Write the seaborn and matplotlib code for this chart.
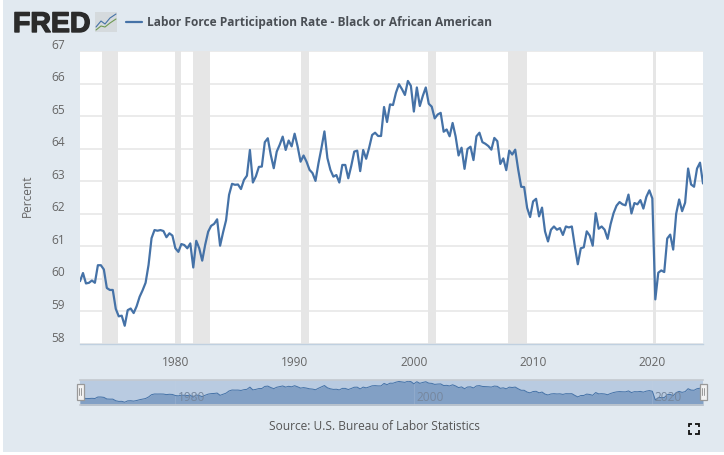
import numpy as np
import pandas as pd
import matplotlib
matplotlib.use("Agg")
import matplotlib.pyplot as plt
import matplotlib.patheffects as pe
from matplotlib.lines import Line2D
from matplotlib.patches import Rectangle
from matplotlib.transforms import ScaledTranslation
import seaborn as sns

rate_1970s = [59.93,60.18,59.86,59.88,59.95,59.88,60.42,60.42,60.29,59.72,
              59.66,59.66,59.08,58.85,58.87,58.56,59.04,59.09,58.95,59.16,
              59.45,59.65,59.88,60.43,61.25,61.5,61.48,61.5,61.47,61.28,
              61.4,61.33]
rate_1980s = [60.94,60.83,61.07,61.04,60.94,61.09,60.35,61.17,60.94,60.56,
              61.05,61.45,61.63,61.69,61.83,61.02,61.43,61.8,62.58,62.92,
              62.89,62.9,62.76,63.04,63.17,63.96,62.96,63.15,63.44,63.45,
              64.2,64.32,63.81,63.4,63.91,64.12,64.37,63.96,64.25,64.07]
rate_1990s = [64.46,64.07,63.6,63.79,63.6,63.35,63.25,63.01,63.55,64.02,
              64.53,63.71,63.35,63.14,63.19,62.96,63.5,63.5,63.09,63.47,
              63.91,63.94,63.31,63.96,63.69,64.03,64.42,64.49,64.39,64.39,
              65.28,64.82,65.36,65.34,65.72,65.98,65.83,65.65,66.08,65.93]
rate_2000s = [65.14,65.88,65.31,65.62,65.88,65.38,65.29,64.93,65.05,65.1,
              64.52,64.59,64.38,64.79,64.38,63.79,64.03,63.38,63.99,64.06,
              63.65,64.38,64.49,64.2,64.15,64.08,63.97,64.33,64.23,63.53,
              63.7,63.34,63.94,63.82,63.97,63.36,62.83,62.82,62.18,61.9]
rate_2010s = [62.38,62.46,61.92,62.19,61.46,61.15,61.51,61.61,61.51,61.56,
              61.35,61.61,61.58,61.61,61.0,60.45,60.94,60.97,61.46,61.33,
              61.02,62.02,61.54,61.61,61.51,61.23,61.68,62.02,62.25,62.36,
              62.29,62.26,62.59,62.01,62.33,62.29,62.42,62.16,62.52,62.72]
rate_2020s = [62.47,59.37,60.19,60.26,60.21,61.24,61.36,60.9,62.0,62.44,
              62.08,62.34,63.39,62.9,62.83,63.39,63.57,62.93]

recession_starts = [1973.83, 1980.0, 1981.5, 1990.5, 2001.2, 2007.92, 2020.08]
recession_ends   = [1975.2, 1980.5, 1982.9, 1991.2, 2001.87, 2009.5, 2020.33]
y_ticks = [58, 59, 60, 61, 62, 63, 64, 65, 66, 67]
x_ticks = [1980, 1990, 2000, 2010, 2020]
nav_ticks = [1980, 2000, 2020]
series_name = "Labor Force Participation Rate - Black or African American"
source_text = "Source: U.S. Bureau of Labor Statistics"

rate = rate_1970s + rate_1980s + rate_1990s + rate_2000s + rate_2010s + rate_2020s
year = 1972 + np.arange(len(rate)) * 0.25
df = pd.DataFrame({"year": year, "rate": rate})

W, H = 724, 455
BG, LINE, GRID = "#e1e9f0", "#4572a7", "#e6e6e6"
TXT = "#666666"

sns.set_theme(style="white")
plt.rcParams["font.family"] = ["Open Sans", "DejaVu Sans"]

fig = plt.figure(figsize=(W / 100, H / 100), dpi=100, facecolor="white")
fig.add_artist(Rectangle((3 / W, 3 / H), 1, 1, transform=fig.transFigure,
                         facecolor=BG, edgecolor="none", zorder=-10))

def box(x0, y0, x1, y1):
    return [x0 / W, 1 - y1 / H, (x1 - x0) / W, (y1 - y0) / H]

# main chart
ax = fig.add_axes(box(80, 51, 703, 344), facecolor="white")
for s, e in zip(recession_starts, recession_ends):
    ax.axvspan(s, e, color=GRID, lw=0, zorder=1)
sns.lineplot(data=df, x="year", y="rate", ax=ax, color=LINE, linewidth=1.6,
             label=series_name, zorder=3)
ax.set_xlim(1972, 2024.25)
ax.set_ylim(58, 67)
ax.set_xticks(x_ticks)
ax.set_xticklabels([str(t) for t in x_ticks])
ax.set_yticks(y_ticks)
ax.set_yticklabels([str(t) for t in y_ticks])
ax.yaxis.grid(True, color=GRID, lw=1.1, zorder=0)
ax.xaxis.grid(False)
ax.set_axisbelow(True)
for sp in ["top", "left", "right"]:
    ax.spines[sp].set_visible(False)
ax.spines["bottom"].set_color("#c0d0e0")
ax.spines["bottom"].set_linewidth(1)
ax.tick_params(axis="x", length=7, width=0.8, color="#c0d0e0", labelcolor=TXT,
               labelsize=8.6, pad=1.5)
ax.tick_params(axis="y", length=0, labelcolor=TXT, labelsize=8.6, pad=11)
lift = ScaledTranslation(0, 4.3 / 72, fig.dpi_scale_trans)
for lab in ax.get_yticklabels():
    lab.set_verticalalignment("center")
    lab.set_transform(lab.get_transform() + lift)
ax.set_xlabel("")
ax.set_ylabel("Percent", color=TXT, fontsize=8.6)
ax.yaxis.set_label_coords((34 - 80) / 623, 0.505)

leg = ax.legend(loc="center left", bbox_to_anchor=((126 - 80) / 623, (344 - 22.5) / 293),
                frameon=False, borderaxespad=0, borderpad=0, handlelength=1.35,
                handletextpad=0.42, prop={"size": 8.58, "weight": "bold"})
leg.get_texts()[0].set_color("#4a4f55")
leg.get_lines()[0].set_linewidth(1.6)

# navigator
nav = fig.add_axes(box(80, 380, 703, 405), facecolor="#b9cbe1")
nav.fill_between(df["year"], df["rate"], 57, color="#82a0c5", lw=0, zorder=1)
sns.lineplot(data=df, x="year", y="rate", ax=nav, color=LINE, linewidth=0.7,
             zorder=2, legend=False)
nav.set_xlim(1972, 2024.25)
nav.set_ylim(57.56, 66.5)
nav.set_xticks([])
nav.set_yticks([])
nav.set_xlabel("")
nav.set_ylabel("")
for t in nav_ticks:
    nav.axvline(t, color="#c6d3e4", lw=0.5, alpha=0.3, zorder=1.5)
    nav.annotate(str(t), (t, 0.3), xycoords=nav.get_xaxis_transform(),
                 xytext=(11.5, 0), textcoords="offset points", ha="center",
                 va="center", color="#76879e", fontsize=8.6, zorder=3)
for sp in nav.spines.values():
    sp.set_visible(False)
nav.spines["top"].set_visible(True)
nav.spines["bottom"].set_visible(True)
nav.spines["top"].set_color("#c4c9cf")
nav.spines["bottom"].set_color("#c4c9cf")
nav.spines["top"].set_linewidth(1.2)
nav.spines["bottom"].set_linewidth(1.2)

# navigator handles
for xc in (80, 703):
    fig.add_artist(Rectangle(((xc - 3.5) / W, 1 - 399.5 / H), 7 / W, 16 / H,
                             transform=fig.transFigure, facecolor="#f2f2f2",
                             edgecolor="#999999", lw=0.9, zorder=5))
    for dx in (-1, 1):
        fig.add_artist(Line2D([(xc + dx) / W] * 2, [1 - 395 / H, 1 - 388 / H],
                              transform=fig.transFigure, color="#999999", lw=0.7, zorder=6))

# source
fig.text(374 / W, 1 - 427 / H, source_text, ha="center", va="center",
         color="#555555", fontsize=8.58)

# fullscreen icon
for cx, sx in ((688.5, 1), (698.5, -1)):
    for cy, sy in ((423.5, 1), (433.5, -1)):
        fig.add_artist(Line2D([(cx + sx * 3.5) / W, cx / W, cx / W],
                              [1 - cy / H, 1 - cy / H, 1 - (cy + sy * 3.5) / H],
                              transform=fig.transFigure, color="#111111", lw=1.3,
                              solid_joinstyle="miter", solid_capstyle="butt"))

# FRED logo
logo = fig.text(13 / W, 1 - 32 / H, "FRED", ha="left", va="baseline", color="#2b2b2b",
                fontsize=20.5, fontweight="bold", family=["Liberation Sans", "DejaVu Sans"])
logo.set_path_effects([pe.withStroke(linewidth=1.0, foreground="#2b2b2b")])
fig.add_artist(Rectangle((95 / W, 1 - 32 / H), 22 / W, 20 / H, transform=fig.transFigure,
                         facecolor="#d5dadd", edgecolor="none"))
fig.add_artist(Line2D(np.array([96, 101, 105, 110, 116]) / W,
                      1 - np.array([27, 21, 24, 18, 14]) / H,
                      transform=fig.transFigure, color="#4572a7", lw=0.8))
fig.add_artist(Line2D(np.array([96, 101, 105, 110, 116]) / W,
                      1 - np.array([30, 26, 27, 23, 19]) / H,
                      transform=fig.transFigure, color="#6f9a52", lw=0.8))

fig.savefig("out.png", dpi=100, facecolor=fig.get_facecolor())
